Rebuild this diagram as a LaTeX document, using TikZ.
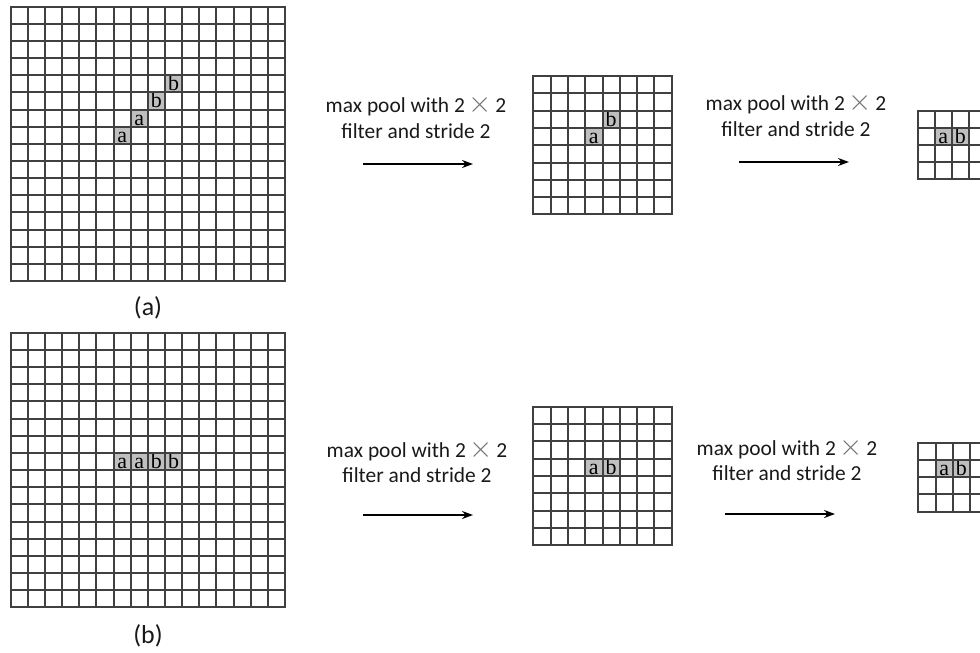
\documentclass[tikz,border=0pt]{standalone}
\usepackage{fontspec}
\setmainfont{Carlito}
\newfontfamily\serifab{Liberation Serif}
\usetikzlibrary{arrows.meta}
\tikzset{
  gridline/.style={draw=black!75, line width=2bp},
  cellbox/.style={fill=black!25, draw=none, inner sep=0pt, text height=14.5pt, text depth=0.5pt,
     font=\serifab\fontsize{22}{22}\selectfont, text=black},
  captext/.style={anchor=base, inner sep=0pt, font=\fontsize{21.5}{21.5}\selectfont, text=black!90},
  sublabel/.style={inner sep=0pt, font=\fontsize{26}{26}\selectfont, text=black!90},
  poolarrow/.style={line width=2bp, -{Stealth[length=11pt,width=8pt]}},
}
% grid: x0, y0, cols, rows, cell
\newcommand\mygrid[5]{%
  \foreach \i in {0,...,#3} \draw[gridline, line cap=rect] ({round(#1+\i*#5)},{round(#2)}) -- ({round(#1+\i*#5)},{round(#2+#4*#5)});
  \foreach \j in {0,...,#4} \draw[gridline, line cap=rect] ({round(#1)},{round(#2+\j*#5)}) -- ({round(#1+#3*#5)},{round(#2+\j*#5)});
}
% shaded cell: name, x0, y0, cell, col, row, letter
\newcommand\mycell[7]{%
  \node[cellbox, minimum width=#4bp, minimum height=#4bp] (#1) at ({#2+(#5+0.5)*#4},{#3+(#6+0.5)*#4}) {#7};
}
\newcommand\xx{2\,{\color{black!55}\scalebox{1.45}{$\times$}}\,2}
\begin{document}
\begin{tikzpicture}[x=1bp, y=-1bp]
\useasboundingbox (0,0) rectangle (980,653);
\clip (0,0) rectangle (980,653);
% ---------- row (a) ----------
\mycell{A1}{10.7}{6.7}{17.15}{9}{4}{b}
\mycell{A2}{10.7}{6.7}{17.15}{8}{5}{b}
\mycell{A3}{10.7}{6.7}{17.15}{7}{6}{a}
\mycell{A4}{10.7}{6.7}{17.15}{6}{7}{a}
\mygrid{10.7}{6.7}{16}{16}{17.15}
\mycell{A5}{533.3}{76}{17.3}{4}{2}{b}
\mycell{A6}{533.3}{76}{17.3}{3}{3}{a}
\mygrid{533.3}{76}{8}{8}{17.3}
\mycell{A7}{917.5}{110.7}{17.15}{1}{1}{a}
\mycell{A8}{917.5}{110.7}{17.15}{2}{1}{b}
\mygrid{917.5}{110.7}{4}{4}{17.15}
\node[captext] (ta1) at (416,113) {max pool with \xx};
\node[captext] (ta2) at (416,139) {filter and stride 2};
\node[captext] (ta3) at (796,111) {max pool with \xx};
\node[captext] (ta4) at (796,137) {filter and stride 2};
\coordinate (a1s) at (363,164);
\coordinate (a1e) at (473,164);
\coordinate (a2s) at (739,162);
\coordinate (a2e) at (849,162);
\draw[poolarrow] (a1s) -- (a1e);
\draw[poolarrow] (a2s) -- (a2e);
\node[sublabel] (la) at (148,308) {(a)};
% ---------- row (b) ----------
\mycell{B1}{10.7}{332.9}{17.15}{6}{7}{a}
\mycell{B2}{10.7}{332.9}{17.15}{7}{7}{a}
\mycell{B3}{10.7}{332.9}{17.15}{8}{7}{b}
\mycell{B4}{10.7}{332.9}{17.15}{9}{7}{b}
\mygrid{10.7}{332.9}{16}{16}{17.15}
\mycell{B5}{533.3}{406.7}{17.3}{3}{3}{a}
\mycell{B6}{533.3}{406.7}{17.3}{4}{3}{b}
\mygrid{533.3}{406.7}{8}{8}{17.3}
\mycell{B7}{918.3}{442.7}{17.25}{1}{1}{a}
\mycell{B8}{918.3}{442.7}{17.25}{2}{1}{b}
\mygrid{918.3}{442.7}{4}{4}{17.25}
\node[captext] (tb1) at (417,457.7) {max pool with \xx};
\node[captext] (tb2) at (417,482.7) {filter and stride 2};
\node[captext] (tb3) at (787,455.7) {max pool with \xx};
\node[captext] (tb4) at (787,480.7) {filter and stride 2};
\coordinate (b1s) at (363,515);
\coordinate (b1e) at (473,515);
\coordinate (b2s) at (725,514);
\coordinate (b2e) at (835,514);
\draw[poolarrow] (b1s) -- (b1e);
\draw[poolarrow] (b2s) -- (b2e);
\node[sublabel] (lb) at (148,636) {(b)};
\end{tikzpicture}
\end{document}
